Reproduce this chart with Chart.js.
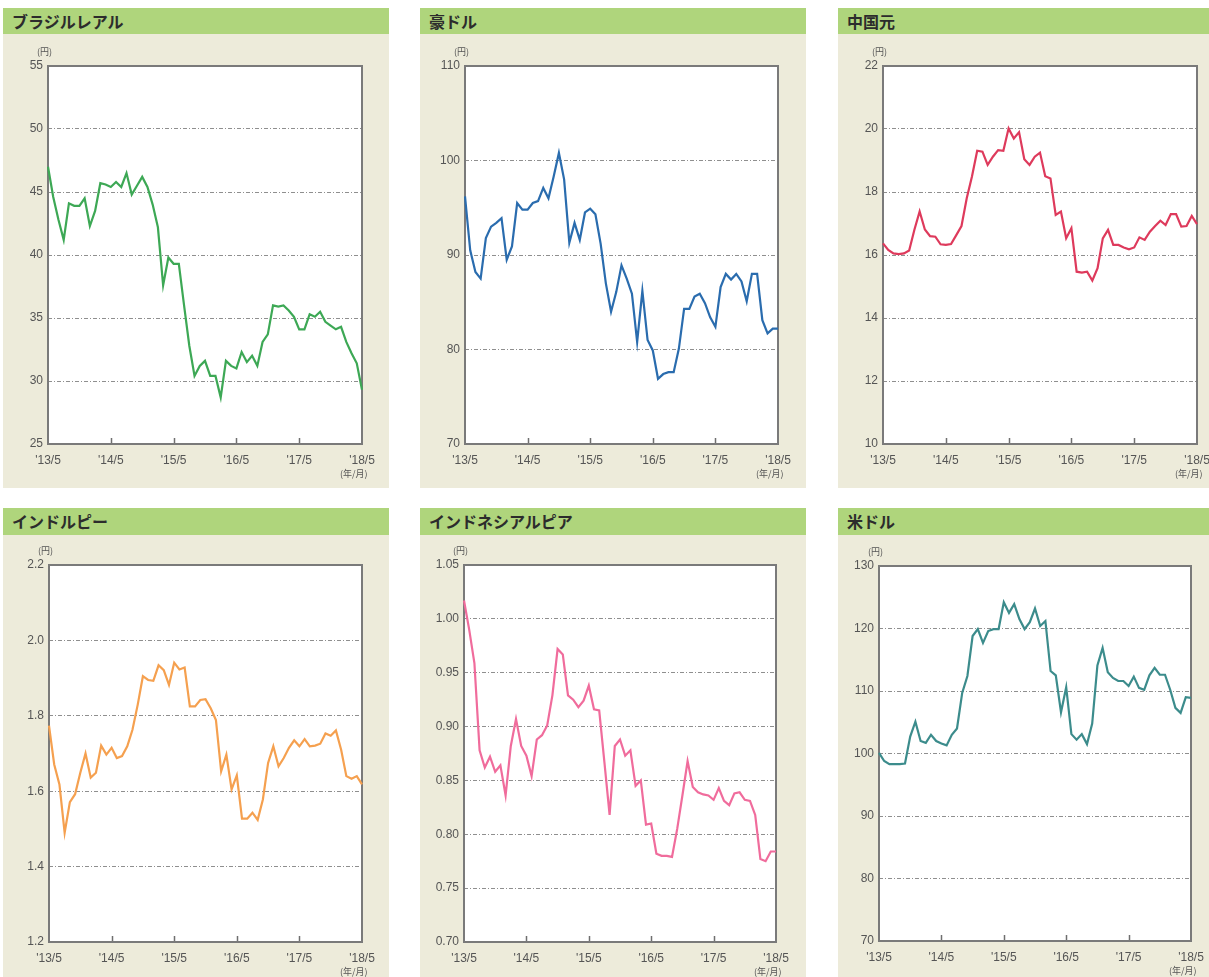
<!DOCTYPE html>
<html><head><meta charset="utf-8">
<script src="https://cdn.jsdelivr.net/npm/chart.js@4.4.1/dist/chart.umd.min.js"></script>
<style>
html,body{margin:0;padding:0;background:#fff;width:1209px;height:977px;overflow:hidden;position:relative;}
.panel{position:absolute;background:#EDEBDA;}
.hdr{position:absolute;background:#AFD57C;font-family:"Noto Sans CJK JP";font-weight:700;font-size:16px;color:#2c2c2c;padding-left:9px;box-sizing:border-box;}
.unit{position:absolute;font-family:"Noto Sans CJK JP";font-size:9px;color:#555;line-height:10px;white-space:nowrap;}
canvas{position:absolute;}
</style></head><body>
<script>
const months = ["2013/05","2013/06","2013/07","2013/08","2013/09","2013/10","2013/11","2013/12",
"2014/01","2014/02","2014/03","2014/04","2014/05","2014/06","2014/07","2014/08","2014/09","2014/10","2014/11","2014/12",
"2015/01","2015/02","2015/03","2015/04","2015/05","2015/06","2015/07","2015/08","2015/09","2015/10","2015/11","2015/12",
"2016/01","2016/02","2016/03","2016/04","2016/05","2016/06","2016/07","2016/08","2016/09","2016/10","2016/11","2016/12",
"2017/01","2017/02","2017/03","2017/04","2017/05","2017/06","2017/07","2017/08","2017/09","2017/10","2017/11","2017/12",
"2018/01","2018/02","2018/03","2018/04","2018/05"];
const xTickLabels = ["'13/5","'14/5","'15/5","'16/5","'17/5","'18/5"];
const titles = ["ブラジルレアル","豪ドル","中国元","インドルピー","インドネシアルピア","米ドル"];
const brlValues = [47.0,44.6,42.8,41.2,44.1,43.9,43.9,44.5,42.3,43.5,45.7,45.6,45.4,45.8,45.4,46.5,44.8,45.5,46.2,45.4,44.0,42.2,37.6,39.8,39.3,39.3,36.0,32.8,30.4,31.2,31.6,30.4,30.4,28.7,31.6,31.2,31.0,32.3,31.5,32.0,31.2,33.1,33.7,36.0,35.9,36.0,35.6,35.1,34.1,34.1,35.3,35.1,35.5,34.7,34.4,34.1,34.3,33.1,32.2,31.4,29.3];
const audValues = [96.2,90.5,88.2,87.5,91.8,93.0,93.4,93.9,89.5,90.9,95.5,94.8,94.8,95.5,95.7,97.1,96.0,98.3,100.8,98.0,91.3,93.4,91.6,94.5,94.9,94.3,91.2,87.0,84.0,86.1,88.9,87.5,85.9,80.8,86.2,81.0,79.9,76.9,77.4,77.6,77.6,80.1,84.3,84.3,85.6,85.9,84.9,83.4,82.4,86.6,88.0,87.4,88.0,87.2,85.1,88.0,88.0,83.1,81.7,82.2,82.2];
const cnyValues = [16.37,16.16,16.05,16.03,16.05,16.14,16.8,17.38,16.81,16.6,16.58,16.34,16.32,16.35,16.63,16.92,17.8,18.49,19.31,19.28,18.86,19.12,19.33,19.31,20.02,19.7,19.9,19.04,18.86,19.12,19.25,18.5,18.43,17.27,17.38,16.53,16.85,15.47,15.44,15.47,15.19,15.58,16.53,16.8,16.32,16.32,16.24,16.18,16.24,16.56,16.48,16.74,16.92,17.09,16.95,17.3,17.3,16.9,16.92,17.24,16.98];
const inrValues = [1.774,1.671,1.618,1.49,1.571,1.592,1.649,1.70,1.636,1.649,1.721,1.697,1.715,1.688,1.693,1.719,1.763,1.829,1.905,1.895,1.893,1.934,1.921,1.882,1.941,1.923,1.928,1.825,1.825,1.842,1.844,1.82,1.789,1.653,1.697,1.605,1.642,1.527,1.527,1.543,1.524,1.578,1.675,1.719,1.666,1.688,1.715,1.735,1.719,1.738,1.719,1.721,1.726,1.753,1.747,1.761,1.71,1.64,1.633,1.64,1.618];
const idrValues = [1.017,0.990,0.959,0.878,0.862,0.872,0.858,0.864,0.836,0.882,0.907,0.882,0.873,0.854,0.888,0.892,0.901,0.929,0.972,0.967,0.929,0.925,0.918,0.924,0.938,0.916,0.915,0.867,0.818,0.882,0.888,0.873,0.878,0.845,0.850,0.809,0.810,0.782,0.780,0.780,0.779,0.805,0.836,0.868,0.844,0.839,0.837,0.836,0.832,0.843,0.831,0.827,0.838,0.839,0.832,0.831,0.818,0.777,0.775,0.784,0.784];
const usdValues = [100.1,98.8,98.3,98.3,98.3,98.4,102.7,105.1,102.0,101.7,103.0,102.0,101.6,101.3,103.0,104.0,109.7,112.4,118.8,119.9,117.7,119.6,119.9,119.9,124.2,122.5,123.9,121.5,119.9,121.0,123.2,120.4,121.2,113.2,112.5,106.6,110.6,103.1,102.2,103.1,101.5,104.8,114.1,116.9,113.0,112.1,111.6,111.6,110.8,112.3,110.5,110.2,112.5,113.7,112.6,112.6,110.2,107.3,106.5,109.0,108.9];
const yRanges = [[25,55,5,0],[70,110,10,0],[10,22,2,0],[1.2,2.2,0.2,1],[0.70,1.05,0.05,2],[70,130,10,0]];

const seriesList = [brlValues,audValues,cnyValues,inrValues,idrValues,usdValues];
const colors = ["#3DA855","#2A6CAE","#DE3A5C","#F5A04F","#F06C9C","#3C8C8C"];
// layout (positions only)
const layout = [
  {px:3,  hy:8,   hh:26, by:34,  bh:454, pl:48,  pr:362,  pt:66,  pb:444},
  {px:420,hy:8,   hh:26, by:34,  bh:454, pl:465, pr:778,  pt:66,  pb:444},
  {px:838,hy:8,   hh:26, by:34,  bh:454, pl:883, pr:1197, pt:66,  pb:444},
  {px:3,  hy:508, hh:27, by:535, bh:442, pl:49,  pr:362,  pt:565, pb:942},
  {px:420,hy:508, hh:27, by:535, bh:442, pl:464, pr:776,  pt:565, pb:942},
  {px:838,hy:508, hh:27, by:535, bh:442, pl:879, pr:1191, pt:566, pb:941}
];
const PW = 386;

const framePlugin = {
  id:'frame',
  beforeDraw(chart){
    const {ctx, chartArea:a} = chart;
    ctx.save(); ctx.fillStyle = '#ffffff';
    ctx.fillRect(a.left, a.top, a.right-a.left, a.bottom-a.top);
    ctx.restore();
  },
  beforeDatasetsDraw(chart){
    const {ctx, chartArea:a, scales} = chart;
    ctx.save();
    ctx.strokeStyle = '#6f6f6f'; ctx.lineWidth = 1.5;
    const xs = scales.x;
    [12,24,36,48].forEach(i=>{
      const x = Math.round(xs.getPixelForValue(i))+0.5;
      ctx.beginPath(); ctx.moveTo(x, a.bottom); ctx.lineTo(x, a.bottom-6); ctx.stroke();
    });
    ctx.strokeStyle = '#7a7a7a'; ctx.lineWidth = 2;
    ctx.strokeRect(a.left, a.top, a.right-a.left, a.bottom-a.top);
    ctx.restore();
  }
};

for (let k=0;k<6;k++){
  const L = layout[k];
  const hdr = document.createElement('div');
  hdr.className='hdr';
  Object.assign(hdr.style,{left:L.px+'px',top:L.hy+'px',width:PW+'px',height:L.hh+'px',lineHeight:L.hh+'px'});
  hdr.textContent = titles[k];
  document.body.appendChild(hdr);
  const pan = document.createElement('div');
  pan.className='panel';
  Object.assign(pan.style,{left:L.px+'px',top:L.by+'px',width:PW+'px',height:L.bh+'px'});
  document.body.appendChild(pan);
  const cv = document.createElement('canvas');
  cv.width = PW; cv.height = L.bh;
  Object.assign(cv.style,{left:L.px+'px',top:L.by+'px',width:PW+'px',height:L.bh+'px'});
  document.body.appendChild(cv);
  const u1 = document.createElement('div'); u1.className='unit';
  u1.textContent='(円)'; Object.assign(u1.style,{left:(L.pl-11)+'px',top:(L.pt-19)+'px'});
  document.body.appendChild(u1);
  const u2 = document.createElement('div'); u2.className='unit';
  u2.textContent='(年/月)'; Object.assign(u2.style,{left:(L.pr-22)+'px',top:(L.pb+25)+'px'});
  document.body.appendChild(u2);

  const [ymin,ymax,ystep,dec] = yRanges[k];
  const leftW = L.pl - L.px, rightP = (L.px+PW) - L.pr, topP = L.pt - L.by, botH = (L.by+L.bh) - L.pb;
  new Chart(cv.getContext('2d'),{
    type:'line',
    data:{labels:months, datasets:[{data:seriesList[k], borderColor:colors[k], borderWidth:2.2, pointRadius:0, tension:0, fill:false}]},
    options:{
      responsive:false, animation:false, devicePixelRatio:1,
      layout:{padding:{left:0,top:topP,right:rightP,bottom:0}},
      plugins:{legend:{display:false}, tooltip:{enabled:false}},
      scales:{
        x:{type:'category', offset:false,
           grid:{display:false, drawTicks:false},
           border:{display:false},
           ticks:{autoSkip:false, maxRotation:0, minRotation:0, padding:9, color:'#555',
                  font:{family:'Liberation Sans', size:12},
                  callback:(v,i)=> (i%12===0 ? xTickLabels[i/12] : '')},
           afterFit:(s)=>{s.height=botH; s.paddingLeft=0; s.paddingRight=0; s.paddingTop=0; s.paddingBottom=0;}
        },
        y:{type:'linear', min:ymin, max:ymax,
           grid:{drawTicks:false, lineWidth:1,
                 color:(c)=> (c.index===0 || c.index===c.scale.ticks.length-1) ? 'rgba(0,0,0,0)' : '#8f8f8f'},
           border:{display:false, dash:[4,2,1,2]},
           ticks:{stepSize:ystep, padding:5, color:'#555', font:{family:'Liberation Sans', size:12},
                  callback:(v)=> Number(v).toFixed(dec)},
           afterFit:(s)=>{s.width=leftW; s.paddingTop=0; s.paddingBottom=0; s.paddingLeft=0; s.paddingRight=0;}
        }
      }
    },
    plugins:[framePlugin]
  });
}
</script>
</body></html>
